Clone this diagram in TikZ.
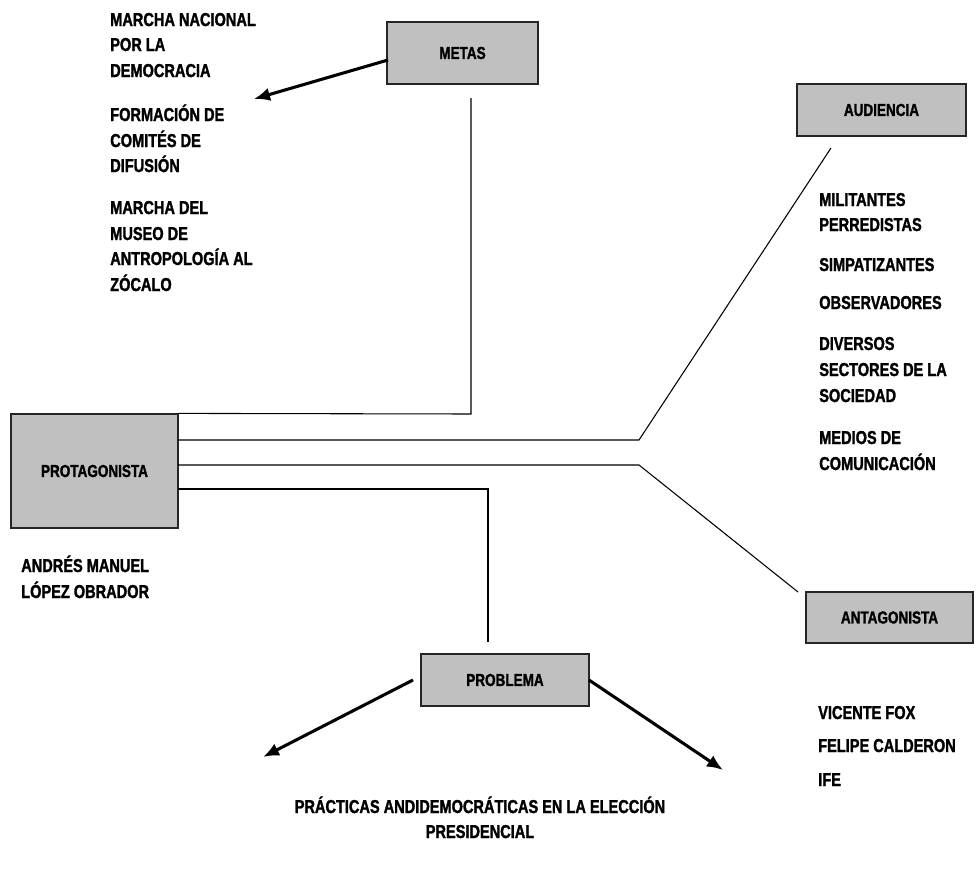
\documentclass[tikz,border=0pt]{standalone}
\usepackage{fontspec}
\setmainfont{Liberation Sans}[FakeStretch=0.78, BoldFeatures={FakeBold=1.5}]
\usetikzlibrary{arrows.meta}
\begin{document}
\begin{tikzpicture}[x=0.75pt,y=-0.75pt,
  box/.style={draw=black!85,line width=0.9pt,fill={rgb,255:red,192;green,192;blue,192},inner sep=0pt,
    font=\fontsize{13pt}{15pt}\selectfont\bfseries},
  lbl/.style={anchor=base west,inner sep=0pt,font=\fontsize{14pt}{16pt}\selectfont\bfseries},
  clbl/.style={anchor=base,inner sep=0pt,font=\fontsize{14pt}{16pt}\selectfont\bfseries},
  conn/.style={draw=black,line width=0.8pt},
  thick arrow/.style={draw=black,line width=2.3pt,-{Latex[length=12pt,width=10pt]}}
]
\useasboundingbox (0,0) rectangle (976,875);

% boxes
\node[box,minimum width=113.25pt,minimum height=46.5pt] (metas) at (462.5,53) {METAS};
\node[box,minimum width=126.75pt,minimum height=39pt] (aud) at (881.5,110) {AUDIENCIA};
\node[box,minimum width=125.25pt,minimum height=85.5pt] (prot) at (94.5,471) {PROTAGONISTA};
\node[box,minimum width=125.25pt,minimum height=38.25pt] (ant) at (889.5,617.5) {ANTAGONISTA};
\node[box,minimum width=126pt,minimum height=39pt] (prob) at (505,680) {PROBLEMA};

% connector coordinates
\coordinate (m1) at (471,414);
\coordinate (m2) at (471,98);
\coordinate (a0) at (178,440);
\coordinate (a1) at (639,440);
\coordinate (a2) at (831,148);
\coordinate (t0) at (178,465);
\coordinate (t1) at (639,465);
\coordinate (t2) at (798,592);
\coordinate (p0) at (178,489);
\coordinate (p1) at (488,489);
\coordinate (p2) at (488,642);
\coordinate (ms) at (388,60);
\coordinate (me) at (254,99);
\coordinate (ls) at (413,680);
\coordinate (le) at (263,757);
\coordinate (rs) at (589,680);
\coordinate (re) at (723,770);

\draw[conn] (prot.north east) -- (m1) -- (m2);
\draw[conn] (a0) -- (a1) -- (a2);
\draw[conn] (t0) -- (t1) -- (t2);
\draw[conn] (p0) -- (p1) -- (p2);

\draw[thick arrow] (ms) -- (me);
\draw[thick arrow] (ls) -- (le);
\draw[thick arrow] (rs) -- (re);

% metas list
\node[lbl] (g1) at (110,26) {MARCHA NACIONAL};
\node[lbl] (g2) at (110,51) {POR LA};
\node[lbl] (g3) at (110,77) {DEMOCRACIA};
\node[lbl] (g4) at (110,121) {FORMACIÓN DE};
\node[lbl] (g5) at (110,147) {COMITÉS DE};
\node[lbl] (g6) at (110,172) {DIFUSIÓN};
\node[lbl] (g7) at (110,214) {MARCHA DEL};
\node[lbl] (g8) at (110,240) {MUSEO DE};
\node[lbl] (g9) at (110,265) {ANTROPOLOGÍA AL};
\node[lbl] (g10) at (110,291) {ZÓCALO};

% audience list
\node[lbl] (u1) at (819,206) {MILITANTES};
\node[lbl] (u2) at (819,231) {PERREDISTAS};
\node[lbl] (u3) at (819,271) {SIMPATIZANTES};
\node[lbl] (u4) at (819,309) {OBSERVADORES};
\node[lbl] (u5) at (819,350) {DIVERSOS};
\node[lbl] (u6) at (819,376) {SECTORES DE LA};
\node[lbl] (u7) at (819,402) {SOCIEDAD};
\node[lbl] (u8) at (819,444) {MEDIOS DE};
\node[lbl] (u9) at (819,470) {COMUNICACIÓN};

% protagonist
\node[lbl] (n1) at (21,572) {ANDRÉS MANUEL};
\node[lbl] (n2) at (21,598) {LÓPEZ OBRADOR};

% antagonist list
\node[lbl] (x1) at (818,719) {VICENTE FOX};
\node[lbl] (x2) at (818,752) {FELIPE CALDERON};
\node[lbl] (x3) at (818,786) {IFE};

% problem
\node[clbl] (b1) at (480,813) {PRÁCTICAS ANDIDEMOCRÁTICAS EN LA ELECCIÓN};
\node[clbl] (b2) at (480,838) {PRESIDENCIAL};
\end{tikzpicture}
\end{document}
